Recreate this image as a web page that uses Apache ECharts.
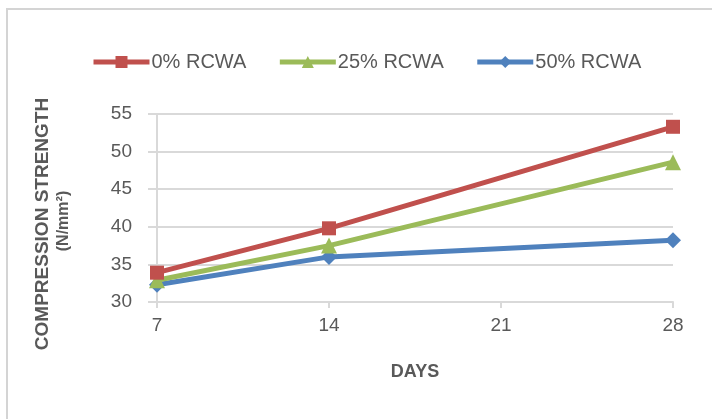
<!DOCTYPE html>
<html>
<head>
<meta charset="utf-8">
<title>Compression strength vs days</title>
<script src="https://cdn.jsdelivr.net/npm/echarts@6/dist/echarts.min.js"></script>
<style>
  html, body { margin: 0; padding: 0; background: #ffffff; }
  #chart { width: 712px; height: 419px; }
</style>
</head>
<body>
<div id="chart"></div>
<script>
// Curing age (days) on the x axis
const days = [7, 14, 28];
const xTicks = [7, 14, 21, 28];
const yTicks = [30, 35, 40, 45, 50, 55];

// Compression strength (N/mm²) for each RCWA replacement level
const seriesNames = ['0% RCWA', '25% RCWA', '50% RCWA'];
const rcwa0 = [33.9, 39.8, 53.3];
const rcwa25 = [32.9, 37.5, 48.6];
const rcwa50 = [32.3, 36.0, 38.2];

const colors = ['#C0504D', '#9BBB59', '#4F81BD'];
const symbols = ['rect', 'triangle', 'diamond'];
const values = [rcwa0, rcwa25, rcwa50];

const textColor = '#595959';
const gridColor = '#d9d9d9';
const baseFont = "'Liberation Sans', Arial, sans-serif";

const chart = echarts.init(document.getElementById('chart'), null, { renderer: 'canvas' });

const series = seriesNames.map((name, i) => ({
  name: name,
  type: 'line',
  data: days.map((d, j) => [d, values[i][j]]),
  symbol: symbols[i],
  symbolSize: symbols[i] === 'rect' ? 14 : 16,
  lineStyle: { color: colors[i], width: 5 },
  itemStyle: { color: colors[i] },
  z: 10 - i
}));

chart.setOption({
  animation: false,
  backgroundColor: '#ffffff',
  color: colors,
  graphic: [
    {
      type: 'rect',
      shape: { x: 7, y: 9, width: 740, height: 440 },
      style: { fill: 'none', stroke: '#d4d4d4', lineWidth: 2 },
      silent: true
    },
    {
      type: 'text',
      x: 43, y: 224,
      rotation: Math.PI / 2,
      style: {
        text: 'COMPRESSION STRENGTH',
        fill: textColor,
        font: "bold 19px " + baseFont,
        align: 'center',
        verticalAlign: 'middle'
      }
    },
    {
      type: 'text',
      x: 64, y: 221,
      rotation: Math.PI / 2,
      style: {
        text: '(N/mm²)',
        fill: textColor,
        font: "bold 16px " + baseFont,
        align: 'center',
        verticalAlign: 'middle'
      }
    },
    {
      type: 'text',
      x: 415, y: 372,
      style: {
        text: 'DAYS',
        fill: textColor,
        font: "bold 18px " + baseFont,
        align: 'center',
        verticalAlign: 'middle'
      }
    }
  ],
  legend: {
    data: seriesNames,
    left: 86,
    top: 47,
    itemWidth: 56,
    itemHeight: 15,
    itemGap: 31,
    lineStyle: { width: 5 },
    textStyle: { color: textColor, fontSize: 20, fontFamily: baseFont, padding: [0, 0, 0, -3] }
  },
  grid: { left: 157, right: 39, top: 114, bottom: 117, containLabel: false },
  xAxis: {
    type: 'value',
    min: xTicks[0],
    max: xTicks[xTicks.length - 1],
    interval: 7,
    axisLine: { show: true, lineStyle: { color: gridColor, width: 2 } },
    axisTick: { show: true, length: 6, lineStyle: { color: gridColor, width: 2 } },
    splitLine: { show: false },
    axisLabel: { color: textColor, fontSize: 19, fontFamily: baseFont, margin: 14 }
  },
  yAxis: {
    type: 'value',
    min: yTicks[0],
    max: yTicks[yTicks.length - 1],
    interval: 5,
    axisLine: { show: true, lineStyle: { color: gridColor, width: 2 } },
    axisTick: { show: true, length: 9, lineStyle: { color: gridColor, width: 2 } },
    splitLine: { show: true, lineStyle: { color: gridColor, width: 2 } },
    axisLabel: { color: textColor, fontSize: 19, fontFamily: baseFont, margin: 25 }
  },
  series: series
});
</script>
</body>
</html>
